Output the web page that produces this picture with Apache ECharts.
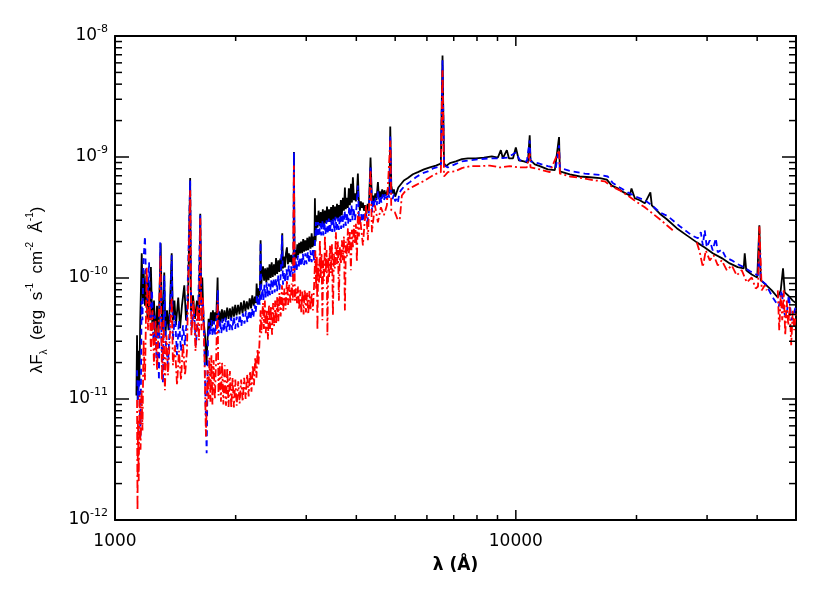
<!DOCTYPE html>
<html>
<head>
<meta charset="utf-8">
<title>SED</title>
<script src="https://cdn.jsdelivr.net/npm/echarts@6/dist/echarts.min.js"></script>
<style>
  html, body { margin: 0; padding: 0; background: #fff; }
  #chart { width: 830px; height: 593px; }
</style>
</head>
<body>
<div id="chart"></div>
<script>
// [wavelength (Å), λFλ (erg s-1 cm-2)]
const blackSpec = [
  [1131, 1.07e-11], [1135, 3.36e-11], [1139, 9.8e-12], [1144, 2.5e-11], [1150, 1.3e-11], [1156, 4.47e-11],
  [1166, 1.6e-10], [1173, 6.5e-11], [1179, 1.16e-10], [1188, 5.9e-11], [1197, 1.05e-10], [1205, 4.6e-11],
  [1212, 9.6e-11], [1223, 4.47e-11], [1229, 1.23e-10], [1240, 3.7e-11], [1251, 6.5e-11], [1262, 3.06e-11],
  [1273, 5.9e-11], [1284, 3.36e-11], [1300, 1.94e-10], [1310, 3.7e-11], [1321, 6.5e-11], [1327, 1.11e-10],
  [1336, 3.36e-11], [1348, 5.4e-11], [1360, 3.7e-11], [1371, 5.9e-11], [1385, 1.6e-10], [1395, 4.47e-11],
  [1407, 6.5e-11], [1419, 4.07e-11], [1438, 6.9e-11], [1453, 3.84e-11], [1469, 5.9e-11], [1489, 8.7e-11],
  [1504, 4.47e-11], [1521, 6.5e-11], [1540, 6.7e-10], [1547, 5.4e-11], [1565, 7.2e-11], [1583, 4.6e-11],
  [1601, 6.5e-11], [1620, 4.9e-11], [1632, 3.4e-10], [1643, 5.9e-11], [1651, 1.01e-10], [1663, 4.47e-11],
  [1677, 3.36e-11], [1691, 1.9e-11], [1701, 3.06e-11], [1712, 4.6e-11], [1722, 3.8e-11], [1735, 5.2e-11],
  [1745, 4.0e-11], [1755, 5.4e-11], [1766, 4.2e-11], [1775, 5.2e-11], [1788, 4.4e-11], [1803, 1.01e-10],
  [1810, 4.3e-11], [1822, 5.3e-11], [1835, 4.3e-11], [1848, 5.5e-11], [1862, 4.4e-11], [1875, 5.4e-11],
  [1890, 4.5e-11], [1905, 5.7e-11], [1920, 4.6e-11], [1935, 5.6e-11], [1950, 4.6e-11], [1965, 5.8e-11],
  [1980, 4.8e-11], [1995, 6.0e-11], [2010, 4.9e-11], [2028, 6.0e-11], [2045, 5.0e-11], [2062, 6.3e-11],
  [2080, 5.1e-11], [2098, 6.5e-11], [2115, 5.3e-11], [2132, 6.4e-11], [2150, 5.5e-11], [2168, 6.8e-11],
  [2185, 5.6e-11], [2200, 7.2e-11], [2218, 5.9e-11], [2234, 7.0e-11], [2248, 6.2e-11], [2256, 9.0e-11],
  [2266, 6.6e-11], [2278, 8.2e-11], [2290, 7.0e-11], [2300, 8.5e-11], [2308, 2.05e-10], [2316, 8.5e-11],
  [2326, 1.05e-10], [2340, 1.25e-10], [2355, 9.5e-11], [2370, 1.2e-10], [2385, 9.2e-11], [2400, 1.22e-10],
  [2415, 9.6e-11], [2430, 1.3e-10], [2445, 1.0e-10], [2460, 1.35e-10], [2475, 1.02e-10], [2492, 1.3e-10],
  [2508, 1.05e-10], [2522, 1.46e-10], [2538, 1.08e-10], [2555, 1.4e-10], [2570, 1.12e-10], [2585, 1.45e-10],
  [2600, 1.15e-10], [2614, 2.34e-10], [2625, 1.2e-10], [2640, 1.5e-10], [2655, 1.22e-10], [2670, 1.6e-10],
  [2685, 1.79e-10], [2700, 1.3e-10], [2715, 1.6e-10], [2732, 1.35e-10], [2750, 1.55e-10], [2770, 1.3e-10],
  [2790, 1.6e-10], [2795, 1.1e-9], [2805, 1.4e-10], [2820, 1.7e-10], [2835, 1.45e-10], [2850, 1.9e-10],
  [2865, 1.55e-10], [2880, 1.95e-10], [2895, 1.6e-10], [2912, 2.0e-10], [2930, 1.6e-10], [2948, 2.1e-10],
  [2965, 1.65e-10], [2982, 2.05e-10], [3000, 1.68e-10], [3018, 2.15e-10], [3035, 1.7e-10], [3055, 2.2e-10],
  [3075, 1.75e-10], [3095, 2.34e-10], [3110, 1.8e-10], [3130, 2.2e-10], [3145, 1.85e-10], [3153, 4.56e-10],
  [3165, 2.0e-10], [3181, 3.3e-10], [3200, 2.6e-10], [3220, 3.6e-10], [3240, 2.7e-10], [3260, 3.5e-10],
  [3280, 2.75e-10], [3300, 3.7e-10], [3320, 2.8e-10], [3340, 3.6e-10], [3360, 2.85e-10], [3380, 3.9e-10],
  [3400, 2.9e-10], [3420, 3.7e-10], [3440, 2.9e-10], [3460, 3.85e-10], [3480, 2.95e-10], [3500, 4.0e-10],
  [3520, 3.0e-10], [3540, 3.9e-10], [3560, 3.1e-10], [3580, 4.1e-10], [3600, 3.1e-10], [3620, 4.0e-10],
  [3640, 3.2e-10], [3660, 4.4e-10], [3680, 3.3e-10], [3704, 4.6e-10], [3725, 3.6e-10], [3746, 5.6e-10],
  [3765, 3.7e-10], [3790, 4.6e-10], [3810, 3.8e-10], [3832, 5.5e-10], [3855, 4.0e-10], [3880, 6.0e-10],
  [3900, 4.2e-10], [3922, 6.8e-10], [3945, 4.4e-10], [3967, 5.0e-10], [3990, 4.3e-10], [4015, 5.2e-10],
  [4036, 7.3e-10], [4055, 4.5e-10], [4083, 3.6e-10], [4105, 4.3e-10], [4130, 3.8e-10], [4154, 4.2e-10],
  [4180, 3.6e-10], [4210, 4.0e-10], [4239, 3.4e-10], [4270, 4.1e-10], [4300, 3.8e-10], [4340, 9.9e-10],
  [4380, 3.99e-10], [4405, 4.8e-10], [4430, 4.2e-10], [4460, 5.0e-10], [4490, 4.4e-10], [4528, 6.2e-10],
  [4555, 4.6e-10], [4580, 5.2e-10], [4610, 4.5e-10], [4640, 5.4e-10], [4670, 4.7e-10], [4700, 5.3e-10],
  [4740, 4.8e-10], [4800, 5.5e-10], [4840, 5.0e-10], [4861, 1.79e-9], [4890, 5.8e-10], [4930, 5.0e-10],
  [4964, 5.4e-10], [5000, 4.7e-10], [5050, 4.8e-10], [5090, 5.6e-10], [5137, 5.8e-10], [5256, 6.4e-10],
  [5378, 6.7e-10], [5536, 7.2e-10], [5697, 7.5e-10], [5898, 7.9e-10], [6103, 8.2e-10], [6317, 8.5e-10],
  [6500, 8.8e-10], [6563, 6.9e-9], [6620, 8.9e-10], [6690, 8.4e-10], [6846, 8.9e-10], [7087, 9.2e-10],
  [7335, 9.6e-10], [7592, 9.75e-10], [7948, 9.75e-10], [8324, 9.9e-10], [8712, 1.01e-9], [9020, 9.9e-10],
  [9175, 1.14e-9], [9280, 9.75e-10], [9497, 1.14e-9], [9610, 9.75e-10], [9840, 9.75e-10], [10000, 1.2e-9],
  [10174, 9.4e-10], [10471, 9.2e-10], [10715, 9.0e-10], [10830, 1.51e-9], [10880, 9.4e-10], [11153, 8.7e-10],
  [11478, 8.4e-10], [12016, 7.9e-10], [12510, 7.8e-10], [12818, 1.46e-9], [12880, 7.6e-10], [13636, 7.2e-10],
  [14441, 6.9e-10], [15295, 6.8e-10], [16198, 6.7e-10], [16866, 6.5e-10], [17357, 5.8e-10], [17966, 5.5e-10],
  [18596, 5.1e-10], [19245, 4.8e-10], [19433, 5.5e-10], [19810, 4.56e-10], [20385, 4.39e-10], [20978, 4.14e-10],
  [21660, 5.1e-10], [21840, 3.99e-10], [22866, 3.4e-10], [23808, 3.06e-10], [25206, 2.58e-10], [26703, 2.25e-10],
  [28281, 1.97e-10], [29600, 1.79e-10], [30990, 1.6e-10], [32638, 1.46e-10], [34174, 1.32e-10], [35776, 1.23e-10],
  [37031, 1.2e-10], [37245, 1.6e-10], [37567, 1.16e-10], [38772, 1.07e-10], [40020, 1.01e-10], [40510, 2.73e-10],
  [40830, 9.6e-11], [42200, 8.7e-11], [43500, 7.9e-11], [45030, 6.9e-11], [45800, 7.9e-11], [46410, 1.2e-10],
  [46860, 7.6e-11], [47950, 7.1e-11], [49070, 6.5e-11], [50000, 6.2e-11]
]

const blueSpec = [
  [1135, 1.73e-11], [1141, 9.8e-12], [1148, 1.43e-11], [1158, 4.8e-12], [1165, 6.5e-11], [1171, 4.47e-11],
  [1178, 1.4e-10], [1188, 2.21e-10], [1195, 9.6e-11], [1205, 6.5e-11], [1216, 1.35e-10], [1226, 4.47e-11],
  [1237, 7.9e-11], [1247, 3.06e-11], [1258, 4.9e-11], [1269, 2.09e-11], [1280, 3.7e-11], [1287, 1.43e-11],
  [1297, 1.97e-10], [1306, 3.06e-11], [1317, 1.35e-11], [1327, 1.05e-10], [1340, 2.78e-11], [1356, 1.9e-11],
  [1371, 4.47e-11], [1385, 1.54e-10], [1395, 3.06e-11], [1411, 4.9e-11], [1428, 2.3e-11], [1444, 4.47e-11],
  [1461, 2.5e-11], [1478, 4.07e-11], [1495, 2.78e-11], [1512, 4.9e-11], [1540, 6.4e-10], [1551, 3.7e-11],
  [1574, 5.4e-11], [1592, 2.78e-11], [1611, 4.9e-11], [1632, 3.3e-10], [1643, 4.47e-11], [1658, 6.5e-11],
  [1672, 2.5e-11], [1693, 3.56e-12], [1706, 3.06e-11], [1716, 4.3e-11], [1727, 3.4e-11], [1740, 4.5e-11],
  [1752, 3.3e-11], [1765, 4.4e-11], [1778, 3.4e-11], [1792, 4.6e-11], [1806, 7.9e-11], [1815, 3.5e-11],
  [1828, 4.5e-11], [1842, 3.5e-11], [1856, 4.6e-11], [1870, 3.6e-11], [1885, 4.7e-11], [1900, 3.6e-11],
  [1915, 4.6e-11], [1930, 3.7e-11], [1946, 4.7e-11], [1962, 3.7e-11], [1978, 4.8e-11], [1995, 3.8e-11],
  [2012, 4.8e-11], [2030, 3.9e-11], [2048, 5.0e-11], [2066, 4.0e-11], [2085, 5.1e-11], [2104, 4.2e-11],
  [2122, 5.3e-11], [2140, 4.3e-11], [2160, 5.4e-11], [2178, 4.5e-11], [2196, 5.6e-11], [2214, 4.7e-11],
  [2230, 6.0e-11], [2245, 5.2e-11], [2260, 7.2e-11], [2272, 5.8e-11], [2286, 7.0e-11], [2296, 6.0e-11],
  [2308, 1.97e-10], [2318, 6.5e-11], [2332, 8.2e-11], [2346, 6.6e-11], [2360, 8.8e-11], [2375, 6.8e-11],
  [2390, 9.2e-11], [2405, 7.0e-11], [2420, 9.0e-11], [2436, 7.2e-11], [2452, 9.6e-11], [2468, 7.4e-11],
  [2485, 9.9e-11], [2502, 7.6e-11], [2520, 1.0e-10], [2537, 7.8e-11], [2555, 1.05e-10], [2572, 8.0e-11],
  [2590, 1.04e-10], [2610, 2.25e-10], [2625, 8.8e-11], [2642, 1.12e-10], [2660, 9.2e-11], [2678, 1.18e-10],
  [2696, 9.6e-11], [2714, 1.27e-10], [2732, 1.0e-10], [2750, 1.25e-10], [2770, 1.02e-10], [2788, 1.3e-10],
  [2795, 1.09e-9], [2805, 1.1e-10], [2822, 1.4e-10], [2840, 1.15e-10], [2860, 1.54e-10], [2880, 1.22e-10],
  [2900, 1.5e-10], [2920, 1.25e-10], [2942, 1.58e-10], [2962, 1.28e-10], [2985, 1.6e-10], [3005, 1.3e-10],
  [3028, 1.65e-10], [3050, 1.32e-10], [3072, 1.69e-10], [3095, 1.35e-10], [3118, 1.7e-10], [3140, 1.4e-10],
  [3160, 2.2e-10], [3172, 2.9e-10], [3190, 2.2e-10], [3210, 2.9e-10], [3230, 2.2e-10], [3250, 2.85e-10],
  [3270, 2.25e-10], [3290, 3.0e-10], [3310, 2.25e-10], [3330, 2.9e-10], [3350, 2.3e-10], [3372, 3.0e-10],
  [3394, 2.3e-10], [3415, 3.1e-10], [3437, 2.35e-10], [3460, 3.0e-10], [3482, 2.4e-10], [3505, 3.1e-10],
  [3528, 2.4e-10], [3550, 3.2e-10], [3572, 2.45e-10], [3595, 3.15e-10], [3619, 2.5e-10], [3642, 3.3e-10],
  [3665, 2.55e-10], [3690, 3.4e-10], [3715, 2.6e-10], [3740, 3.6e-10], [3765, 2.7e-10], [3790, 3.5e-10],
  [3815, 2.8e-10], [3840, 3.9e-10], [3865, 2.9e-10], [3890, 4.0e-10], [3915, 3.0e-10], [3940, 3.8e-10],
  [3967, 3.0e-10], [4000, 3.7e-10], [4036, 5.8e-10], [4060, 3.2e-10], [4085, 2.9e-10], [4110, 3.4e-10],
  [4140, 2.9e-10], [4170, 3.5e-10], [4200, 3.0e-10], [4230, 3.4e-10], [4260, 2.9e-10], [4300, 3.5e-10],
  [4340, 8.5e-10], [4380, 3.49e-10], [4410, 4.5e-10], [4440, 3.9e-10], [4470, 4.6e-10], [4500, 4.0e-10],
  [4528, 5.3e-10], [4560, 4.1e-10], [4590, 4.8e-10], [4620, 4.2e-10], [4655, 4.9e-10], [4690, 4.4e-10],
  [4725, 5.0e-10], [4760, 4.5e-10], [4800, 5.1e-10], [4835, 4.6e-10], [4861, 1.51e-9], [4890, 5.1e-10],
  [4925, 4.5e-10], [4964, 4.9e-10], [5000, 4.3e-10], [5040, 4.5e-10], [5078, 4.2e-10], [5120, 5.0e-10],
  [5166, 5.3e-10], [5286, 5.8e-10], [5441, 6.2e-10], [5632, 6.8e-10], [5829, 7.3e-10], [6033, 7.6e-10],
  [6245, 8.1e-10], [6500, 8.4e-10], [6563, 6.3e-9], [6620, 8.5e-10], [6767, 8.2e-10], [7045, 8.7e-10],
  [7335, 9.2e-10], [7680, 9.4e-10], [8134, 9.6e-10], [8614, 9.75e-10], [9124, 9.75e-10], [9550, 9.9e-10],
  [10000, 1.09e-9], [10233, 9.4e-10], [10652, 9.2e-10], [10830, 1.37e-9], [10880, 9.2e-10], [11346, 8.9e-10],
  [12016, 8.4e-10], [12584, 8.1e-10], [12818, 1.25e-9], [12880, 8.1e-10], [13794, 7.6e-10], [14862, 7.3e-10],
  [16198, 7.1e-10], [16960, 6.9e-10], [17452, 6.1e-10], [18170, 5.6e-10], [19025, 5.1e-10], [19920, 4.7e-10],
  [20978, 4.39e-10], [21840, 3.99e-10], [22866, 3.49e-10], [23946, 3.24e-10], [25645, 2.68e-10], [27480, 2.25e-10],
  [28445, 2.13e-10], [28940, 2.39e-10], [29276, 1.86e-10], [29600, 2.48e-10], [29950, 1.79e-10], [30470, 2.05e-10],
  [30990, 1.69e-10], [31540, 2.13e-10], [31900, 1.63e-10], [32638, 1.72e-10], [33400, 1.48e-10], [34570, 1.4e-10],
  [35776, 1.3e-10], [37031, 1.23e-10], [38330, 1.14e-10], [40200, 1.05e-10], [40510, 2.05e-10], [40830, 9.6e-11],
  [42030, 8.9e-11], [43750, 6.9e-11], [45290, 5.8e-11], [46060, 7.9e-11], [46600, 5.2e-11], [47330, 4.7e-11],
  [47950, 7.2e-11], [48790, 4.47e-11], [50000, 5.9e-11]
]

// null = gap in the observed spectrum
const redSpec = [
  [1135, 9.8e-12], [1138, 1.2e-12], [1141, 6.7e-12], [1146, 2.1e-12], [1151, 1.07e-11], [1158, 3.8e-12],
  [1165, 1.18e-11], [1171, 5.5e-12], [1178, 3.06e-11], [1188, 1.43e-11], [1200, 1.23e-10], [1209, 3.7e-11],
  [1219, 7.9e-11], [1229, 2.5e-11], [1240, 5.4e-11], [1251, 1.9e-11], [1262, 4.47e-11], [1273, 1.73e-11],
  [1284, 3.7e-11], [1299, 1.54e-10], [1310, 1.43e-11], [1321, 4.47e-11], [1332, 1.18e-11], [1344, 3.36e-11],
  [1356, 1.57e-11], [1367, 2.78e-11], [1385, 6.9e-11], [1395, 1.9e-11], [1411, 2.78e-11], [1428, 1.3e-11],
  [1444, 2.5e-11], [1461, 1.43e-11], [1478, 2.89e-11], [1495, 1.57e-11], [1512, 2.5e-11], [1540, 5.3e-10],
  [1551, 3.36e-11], [1570, 6.5e-11], [1588, 2.5e-11], [1606, 5.9e-11], [1620, 3.06e-11], [1632, 3.11e-10],
  [1643, 3.7e-11], [1658, 6.9e-11], [1672, 2.2e-11], [1686, 4.9e-12], [1701, 1.73e-11], [1710, 1.0e-11],
  [1720, 2.2e-11], [1730, 9.5e-12], [1740, 2.3e-11], [1750, 9.0e-12], [1762, 2.1e-11], [1775, 1.0e-11],
  [1788, 2.2e-11], [1803, 6.5e-11], [1812, 1.07e-11], [1825, 2.0e-11], [1838, 9.5e-12], [1850, 2.0e-11],
  [1864, 9.0e-12], [1878, 1.9e-11], [1892, 8.8e-12], [1906, 1.8e-11], [1920, 8.6e-12], [1935, 1.7e-11],
  [1950, 8.4e-12], [1965, 1.5e-11], [1980, 8.5e-12], [1996, 1.45e-11], [2012, 8.8e-12], [2030, 1.4e-11],
  [2046, 9.2e-12], [2064, 1.45e-11], [2082, 9.5e-12], [2100, 1.5e-11], [2118, 1.0e-11], [2136, 1.6e-11],
  [2155, 1.05e-11], [2172, 1.7e-11], [2190, 1.15e-11], [2207, 1.9e-11], [2222, 1.3e-11], [2238, 2.2e-11],
  [2254, 1.5e-11], [2268, 2.6e-11], [2280, 1.9e-11], [2294, 3.0e-11], [2308, 5.4e-11], [2318, 3.5e-11],
  [2326, 4.47e-11], [2340, 6.2e-11], [2352, 3.8e-11], [2365, 6.5e-11], [2378, 3.5e-11], [2393, 5.5e-11],
  [2408, 3.1e-11], [2422, 6.0e-11], [2436, 3.8e-11], [2450, 5.9e-11], [2465, 3.4e-11], [2480, 6.2e-11],
  [2495, 4.0e-11], [2510, 6.5e-11], [2525, 4.2e-11], [2540, 7.0e-11], [2556, 4.4e-11], [2572, 7.5e-11],
  [2590, 4.8e-11], [2610, 8.7e-11], [2628, 5.2e-11], [2646, 8.2e-11], [2665, 5.5e-11], [2685, 9.6e-11],
  [2703, 6.0e-11], [2720, 8.8e-11], [2740, 6.2e-11], [2760, 9.0e-11], [2778, 6.5e-11], [2795, 8.5e-10],
  [2810, 6.5e-11], [2828, 8.2e-11], [2845, 6.2e-11], [2862, 8.5e-11], [2880, 5.5e-11], [2898, 8.0e-11],
  [2916, 5.2e-11], [2935, 7.8e-11], [2955, 5.0e-11], [2975, 8.0e-11], [2995, 5.2e-11], [3015, 7.6e-11],
  [3035, 5.0e-11], [3055, 7.8e-11], [3075, 5.4e-11], [3095, 7.5e-11], [3117, 5.4e-11], [3140, 9.0e-11],
  [3162, 1.69e-10], [3175, 8.0e-11], [3188, 1.5e-10], [3199, 3.7e-11], [3212, 1.3e-10], [3228, 9.0e-11],
  [3245, 2.05e-10], [3260, 1.0e-10], [3276, 1.6e-10], [3292, 4.47e-11], [3308, 1.4e-10], [3324, 9.5e-11],
  [3340, 2.25e-10], [3356, 1.1e-10], [3372, 1.7e-10], [3388, 3.36e-11], [3405, 1.5e-10], [3420, 1.0e-10],
  [3438, 1.86e-10], [3458, 1.1e-10], [3478, 1.9e-10], [3497, 4.9e-11], [3517, 1.6e-10], [3537, 1.2e-10],
  [3557, 2.39e-10], [3578, 1.3e-10], [3598, 2.0e-10], [3619, 6.5e-11], [3640, 1.8e-10], [3662, 1.3e-10],
  [3683, 2.05e-10], [3704, 1.4e-10], [3725, 2.2e-10], [3746, 5.4e-11], [3768, 2.0e-10], [3790, 1.5e-10],
  [3811, 2.58e-10], [3833, 1.6e-10], [3855, 2.4e-10], [3877, 1.16e-10], [3900, 2.5e-10], [3922, 1.8e-10],
  [3945, 2.73e-10], [3968, 1.9e-10], [3990, 2.8e-10], [4013, 1.35e-10], [4036, 3.5e-10], [4060, 2.2e-10],
  [4083, 3.3e-10], [4154, 1.86e-10], [4226, 3.99e-10], [4275, 2.05e-10], [4340, 7.8e-10], [4375, 2.39e-10],
  [4451, 3.99e-10], [4528, 2.89e-10], [4606, 3.84e-10], [4687, 3.3e-10], [4768, 3.99e-10], [4861, 1.37e-9],
  [4890, 3.63e-10], [4992, 3.49e-10], [5078, 3.0e-10], [5137, 3.11e-10], [5196, 4.8e-10], [5316, 5.3e-10],
  [5441, 5.5e-10], [5600, 5.8e-10], [5763, 6.1e-10], [5931, 6.4e-10], [6103, 6.8e-10], [6281, 7.2e-10],
  [6500, 7.5e-10], [6563, 5.2e-9], [6620, 6.9e-10], [6767, 7.5e-10], [7045, 7.6e-10], [7335, 8.1e-10],
  [7680, 8.4e-10], [8134, 8.4e-10], [8614, 8.5e-10], [9124, 8.2e-10], [9661, 8.4e-10], [10233, 8.2e-10],
  [10652, 8.2e-10], [10830, 1.07e-9], [10880, 8.2e-10], [11478, 7.9e-10], [12155, 7.5e-10], [12818, 1.14e-9],
  [12880, 7.3e-10], [13636, 6.9e-10], [14610, 6.7e-10], [15740, 6.4e-10], [16670, 6.3e-10], [17357, 5.7e-10],
  [18170, 5.3e-10], [19025, 4.8e-10], [19920, 4.3e-10], [20978, 3.84e-10], [21970, 3.4e-10], [22866, 3.06e-10],
  [23808, 2.73e-10], [24640, 2.48e-10], [26000, null], [28281, 1.97e-10], [28770, 1.63e-10], [29276, 1.23e-10],
  [29780, 1.69e-10], [30470, 1.4e-10], [31170, 1.54e-10], [31900, 1.27e-10], [32638, 1.4e-10], [33590, 1.16e-10],
  [34570, 1.27e-10], [35570, 1.05e-10], [36610, 1.16e-10], [37680, 9.2e-11], [38772, 1.01e-10], [39670, 8.2e-11],
  [40200, 8.5e-11], [40510, 2.68e-10], [41070, 7.9e-11], [41790, 8.7e-11], [42270, 7.9e-11], [44000, null],
  [45030, 7.9e-11], [45410, 3.7e-11], [45800, 7.2e-11], [46200, 4.47e-11], [46600, 7.9e-11], [47000, 3.36e-11],
  [47410, 6.5e-11], [47820, 4.07e-11], [48230, 5.9e-11], [48640, 2.78e-11], [49070, 5.4e-11], [49490, 3.7e-11],
  [50000, 5.4e-11]
]

// axis ranges and tick marks (IDL style, on all four sides)
const xRange = [1000, 50000]
const yRange = [1e-12, 1e-8]
const xMajorTicks = [1000, 10000]
const xMinorTicks = [2000, 3000, 4000, 5000, 6000, 7000, 8000, 9000, 20000, 30000, 40000]
const yMajorTicks = [1e-12, 1e-11, 1e-10, 1e-9, 1e-8]
const yMinorTicks = [
  2e-12, 3e-12, 4e-12, 5e-12, 6e-12, 7e-12, 8e-12, 9e-12,
  2e-11, 3e-11, 4e-11, 5e-11, 6e-11, 7e-11, 8e-11, 9e-11,
  2e-10, 3e-10, 4e-10, 5e-10, 6e-10, 7e-10, 8e-10, 9e-10,
  2e-9, 3e-9, 4e-9, 5e-9, 6e-9, 7e-9, 8e-9, 9e-9
]

const labelFont = 'DejaVu Sans'
const nameFont = 'Liberation Sans'
const tickStyle = { stroke: '#000', lineWidth: 1.5 }

const tickSeries = (ticks, dir, len) => ({
  type: 'custom',
  silent: true,
  clip: false,
  z: 5,
  animation: false,
  data: ticks.map(v => (dir === 'x' ? [v, yRange[0]] : [xRange[0], v])),
  renderItem: (params, api) => {
    if (dir === 'x') {
      const v = api.value(0)
      const b = api.coord([v, yRange[0]])
      const t = api.coord([v, yRange[1]])
      return {
        type: 'group',
        children: [
          { type: 'line', shape: { x1: b[0], y1: b[1], x2: b[0], y2: b[1] - len }, style: tickStyle },
          { type: 'line', shape: { x1: t[0], y1: t[1], x2: t[0], y2: t[1] + len }, style: tickStyle },
        ],
      }
    }
    const v = api.value(1)
    const l = api.coord([xRange[0], v])
    const r = api.coord([xRange[1], v])
    return {
      type: 'group',
      children: [
        { type: 'line', shape: { x1: l[0], y1: l[1], x2: l[0] + len, y2: l[1] }, style: tickStyle },
        { type: 'line', shape: { x1: r[0], y1: r[1], x2: r[0] - len, y2: r[1] }, style: tickStyle },
      ],
    }
  },
})

const frameLine = { onZero: false, lineStyle: { color: '#000', width: 2 } }

const chart = echarts.init(document.getElementById('chart'), null, { renderer: 'canvas' })

chart.setOption({
  animation: false,
  backgroundColor: '#fff',
  grid: { left: 115, right: 34, top: 36, bottom: 73 },
  xAxis: [
    {
      type: 'log',
      logBase: 10,
      min: xRange[0],
      max: xRange[1],
      position: 'bottom',
      axisLine: frameLine,
      axisTick: { show: false },
      splitLine: { show: false },
      axisLabel: {
        showMaxLabel: false,
        margin: 13,
        color: '#000',
        fontFamily: labelFont,
        fontSize: 17,
        formatter: v => String(Math.round(v)),
      },
      name: 'λ (Å)',
      nameLocation: 'middle',
      nameGap: 37,
      nameTextStyle: { color: '#000', fontFamily: labelFont, fontSize: 17, fontWeight: 'bold' },
    },
    {
      type: 'log',
      logBase: 10,
      min: xRange[0],
      max: xRange[1],
      position: 'top',
      axisLine: frameLine,
      axisTick: { show: false },
      splitLine: { show: false },
      axisLabel: { show: false },
    },
  ],
  yAxis: [
    {
      type: 'log',
      logBase: 10,
      min: yRange[0],
      max: yRange[1],
      position: 'left',
      axisLine: frameLine,
      axisTick: { show: false },
      splitLine: { show: false },
      axisLabel: {
        margin: 7,
        color: '#000',
        fontFamily: labelFont,
        fontSize: 17,
        lineHeight: 24,
        formatter: v => '10{e|' + Math.round(Math.log10(v)) + '}',
        rich: {
          e: { fontFamily: labelFont, fontSize: 11, lineHeight: 12, verticalAlign: 'top', color: '#000' },
        },
      },
      name: 'λF{sub|λ}  (erg  s{sup|-1}  cm{sup|-2}  Å{sup|-1})',
      nameLocation: 'middle',
      nameGap: 66,
      nameRotate: 90,
      nameTextStyle: {
        color: '#000',
        fontFamily: nameFont,
        fontSize: 17,
        lineHeight: 24,
        padding: [0, 24, 0, 0],
        rich: {
          sub: { fontFamily: nameFont, fontSize: 10, lineHeight: 12, verticalAlign: 'bottom', color: '#000' },
          sup: { fontFamily: nameFont, fontSize: 10, lineHeight: 12, verticalAlign: 'top', color: '#000' },
        },
      },
    },
    {
      type: 'log',
      logBase: 10,
      min: yRange[0],
      max: yRange[1],
      position: 'right',
      axisLine: frameLine,
      axisTick: { show: false },
      splitLine: { show: false },
      axisLabel: { show: false },
    },
  ],
  series: [
    {
      name: 'black',
      type: 'line',
      data: blackSpec,
      symbol: 'none',
      z: 2,
      lineStyle: { color: '#000000', width: 1.8 },
    },
    {
      name: 'blue',
      type: 'line',
      data: blueSpec,
      symbol: 'none',
      z: 3,
      lineStyle: { color: '#0000ff', width: 1.8, type: [6, 4] },
    },
    {
      name: 'red',
      type: 'line',
      data: redSpec,
      symbol: 'none',
      z: 4,
      lineStyle: { color: '#ff0000', width: 1.8, type: [8, 3, 2, 3] },
    },
    tickSeries(xMajorTicks, 'x', 10),
    tickSeries(xMinorTicks, 'x', 5),
    tickSeries(yMajorTicks, 'y', 14),
    tickSeries(yMinorTicks, 'y', 7),
  ],
})

window.addEventListener('resize', () => chart.resize())
</script>
</body>
</html>
